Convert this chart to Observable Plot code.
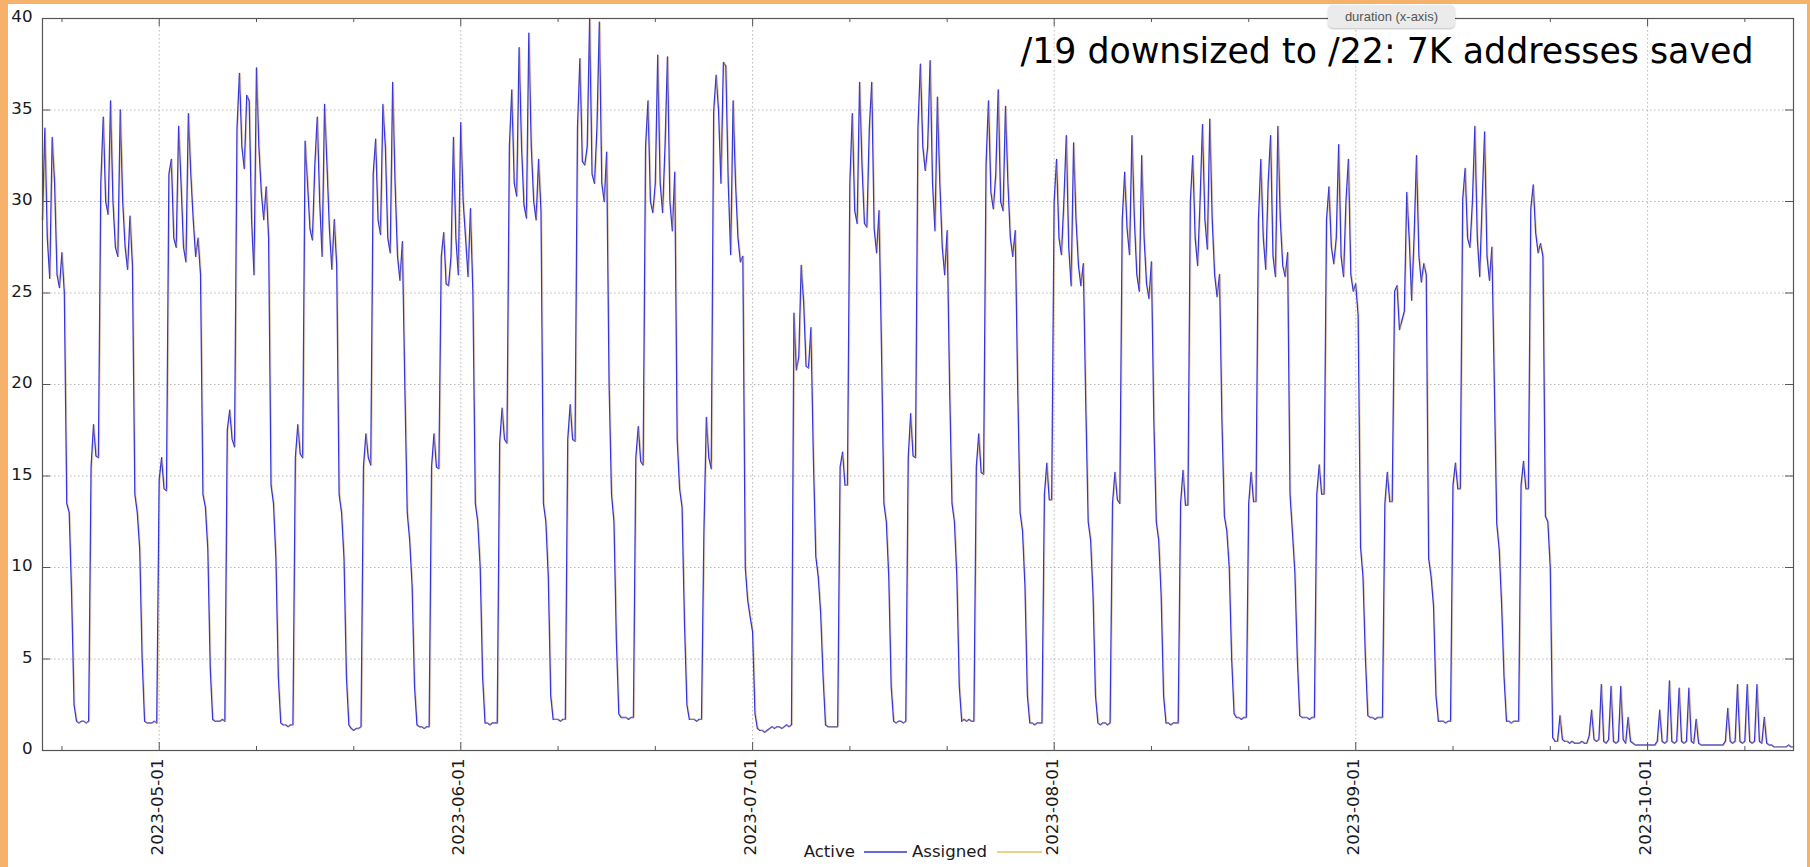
<!DOCTYPE html>
<html>
<head>
<meta charset="utf-8">
<script src="https://cdn.jsdelivr.net/npm/d3@7"></script>
<script src="https://cdn.jsdelivr.net/npm/@observablehq/plot@0.6"></script>
<style>
  html, body { margin: 0; padding: 0; overflow: hidden; background: #f6b26b; }
  #page { position: relative; width: 1810px; height: 867px; background: #f6b26b; }
  #white { position: absolute; left: 8px; top: 4px; width: 1799px; height: 863px; background: #ffffff; }
  #chart { position: absolute; left: 0; top: 0; }
  #tip { position: absolute; left: 1328px; top: 5px; width: 127px; height: 23px; background: #ebebeb;
         border-radius: 5px; box-shadow: 0 1px 2px rgba(0,0,0,0.25);
         font: 13px "Liberation Sans", Arial, sans-serif; color: #555; line-height: 23px; text-align: center; }
</style>
</head>
<body>
<div id="page">
  <div id="white"></div>
  <div id="chart"></div>
  <div id="tip">duration (x-axis)</div>
</div>
<script>
// ---------------- DATA (6-hour steps) ----------------
const titleText = "/19 downsized to /22: 7K addresses saved";
const seriesNames = ["Active", "Assigned"];
const yTicks = [0, 5, 10, 15, 20, 25, 30, 35, 40];
const monthTicks = ["2023-05-01", "2023-06-01", "2023-07-01", "2023-08-01", "2023-09-01", "2023-10-01"];
const minorTicks = ["2023-04-21", "2023-05-11", "2023-05-21", "2023-06-11", "2023-06-21", "2023-07-11",
                    "2023-07-21", "2023-08-11", "2023-08-21", "2023-09-11", "2023-09-21", "2023-10-11"];
const xDomain = ["2023-04-19T00:00:00Z", "2023-10-16T00:00:00Z"];
const stepHours = 6;

// each week: values every 6 h starting at the listed date (00:00 UTC)
const w0419 = [29, 34, 28, 25.8,  33.5, 31, 26, 25.3,  27.2, 25, 13.5, 13,  8.5, 2.5, 1.6, 1.5,  1.6, 1.6, 1.5, 1.6,  15.5, 17.8, 16.1, 16];
const w0425 = [31, 34.6, 30, 29.3,  35.5, 30, 27.5, 27,  35, 30, 27.5, 26.3,  29.2, 26.5, 14, 13,  11, 5, 1.6, 1.5,  1.5, 1.5, 1.6, 1.5,  14.8, 16, 14.3, 14.2];
const w0502 = [31.5, 32.3, 28, 27.5,  34.1, 31, 27.5, 26.7,  34.8, 31.5, 29, 27,  28, 26, 14, 13.3,  11, 4.5, 1.7, 1.6,  1.6, 1.6, 1.7, 1.6,  17.5, 18.6, 17, 16.6];
const w0509 = [34, 37, 33, 31.8,  35.8, 35.5, 29, 26,  37.3, 33, 30.5, 29,  30.8, 28, 14.5, 13.5,  10.5, 4, 1.5, 1.4,  1.4, 1.3, 1.4, 1.4,  16, 17.8, 16.2, 16];
const w0516 = [33.3, 31, 28.5, 27.9,  32, 34.6, 30, 27,  35.3, 32, 28.5, 26.3,  29, 26.5, 14, 13,  10.5, 4, 1.4, 1.2,  1.1, 1.2, 1.2, 1.3,  15.5, 17.3, 16, 15.6];
const w0523 = [31.5, 33.4, 29, 28.2,  35.3, 33, 28, 27.2,  36.5, 31, 27, 25.7,  27.8, 20, 13, 11.5,  9, 3.5, 1.4, 1.3,  1.3, 1.2, 1.3, 1.3,  15.5, 17.3, 15.5, 15.4];
const w0530 = [27, 28.3, 25.5, 25.4,  27, 33.5, 28, 26,  34.3, 30, 28, 25.9,  29.6, 25, 13.5, 12.5,  10, 4, 1.5, 1.5,  1.4, 1.5, 1.5, 1.5,  16.8, 18.7, 17, 16.8];
const w0606 = [33, 36.1, 31, 30.3,  38.4, 33, 29.8, 29.1,  39.2, 33, 30, 29,  32.3, 29.5, 13.5, 12.5,  9.5, 3, 1.7, 1.7,  1.7, 1.6, 1.7, 1.7,  17, 18.9, 17, 16.9];
const w0613 = [34, 37.8, 32.2, 32,  33, 40, 31.5, 31,  34, 39.8, 31, 30,  32.7, 20, 14, 12.5,  6, 2, 1.8, 1.8,  1.8, 1.7, 1.8, 1.8,  16, 17.7, 15.8, 15.6];
const w0620 = [33, 35.5, 30, 29.4,  31, 38, 31, 29.4,  33, 37.9, 30, 28.4,  31.6, 17, 14.3, 13.3,  7, 2.5, 1.7, 1.7,  1.7, 1.6, 1.7, 1.7,  12, 18.2, 16, 15.4];
const w0627 = [34.9, 36.9, 35, 31,  37.6, 37.4, 31, 27.1,  35.5, 31, 28, 26.7,  27, 10, 8.2, 7.3,  6.5, 2, 1.2, 1.1,  1.1, 1.0, 1.1, 1.2,  1.3, 1.2, 1.3, 1.3];
const w0704 = [1.2, 1.3, 1.4, 1.3,  1.4, 23.9, 20.8, 21.5,  26.5, 24.5, 21, 20.9,  23.1, 16, 10.6, 9.5,  7.5, 4, 1.4, 1.3,  1.3, 1.3, 1.3, 1.3,  15.5, 16.3, 14.5, 14.5];
const w0711 = [31, 34.8, 29.5, 28.8,  36.5, 32, 28.8, 28.6,  34, 36.5, 28.5, 27.2,  29.5, 22, 13.5, 12.5,  9.5, 3.5, 1.6, 1.5,  1.6, 1.6, 1.5, 1.6,  16, 18.4, 16.1, 16];
const w0718 = [34, 37.5, 33, 31.7,  33, 37.7, 31, 28.4,  35.7, 31, 27.5, 26,  28.4, 20, 13.5, 12.5,  9.5, 3.5, 1.6, 1.7,  1.6, 1.7, 1.6, 1.6,  15.5, 17.3, 15.2, 15.1];
const w0725 = [32, 35.5, 30.5, 29.6,  31.5, 36.1, 30, 29.5,  35.2, 31, 28, 27,  28.4, 20, 13, 12,  9, 3, 1.5, 1.5,  1.4, 1.5, 1.5, 1.5,  14, 15.7, 13.7, 13.7];
const w0801 = [30, 32.3, 28, 27.1,  30, 33.6, 27.5, 25.4,  33.2, 29, 26.5, 25.4,  26.6, 19, 12.5, 11.5,  8.5, 3, 1.5, 1.4,  1.5, 1.5, 1.4, 1.5,  13.5, 15.2, 13.7, 13.5];
const w0808 = [29, 31.6, 28.5, 27.1,  33.6, 29, 26, 25.1,  32.5, 28, 25.5, 24.7,  26.7, 18, 12.5, 11.5,  8.5, 3, 1.5, 1.5,  1.4, 1.5, 1.5, 1.5,  13.5, 15.3, 13.4, 13.4];
const w0815 = [30, 32.5, 28, 26.5,  30, 34.2, 29, 27.4,  34.5, 29, 26, 24.8,  26, 18, 12.8, 12,  10, 5, 2, 1.8,  1.8, 1.7, 1.8, 1.8,  13.5, 15.2, 13.6, 13.6];
const w0822 = [29, 32.3, 28, 26.3,  31, 33.6, 27, 25.9,  34.1, 29, 26.5, 25.9,  27.2, 14, 11.9, 9.7,  5, 1.9, 1.8, 1.8,  1.8, 1.7, 1.8, 1.8,  14, 15.6, 14, 14];
const w0829 = [29, 30.8, 27.5, 26.6,  28, 33.1, 27, 25.9,  30, 32.3, 26, 25.1,  25.5, 23.8, 11.1, 9.5,  5, 1.9, 1.8, 1.8,  1.7, 1.8, 1.8, 1.8,  13.5, 15.2, 13.6, 13.6];
const w0905 = [25.1, 25.4, 23, 23.5,  24, 30.5, 28, 24.6,  28, 32.5, 27, 25.6,  26.6, 26, 10.5, 9.5,  7.9, 3, 1.6, 1.6,  1.6, 1.5, 1.6, 1.6,  14.5, 15.7, 14.3, 14.3];
const w0912 = [30.1, 31.8, 28, 27.5,  30, 34.1, 28, 25.9,  30, 33.8, 27, 25.7,  27.5, 20, 12.4, 11,  8, 4, 1.6, 1.6,  1.5, 1.6, 1.6, 1.6,  14.5, 15.8, 14.3, 14.3];
const w0919 = [29.6, 30.9, 28.3, 27.2,  27.7, 27, 12.8, 12.5,  10, 0.7, 0.5, 0.5,  1.9, 0.6, 0.5, 0.5,  0.4, 0.5, 0.4, 0.4,  0.4, 0.5, 0.4, 0.4,  0.8, 2.2, 0.6, 0.5];
const w0926 = [0.6, 3.6, 0.5, 0.4,  0.6, 3.5, 0.5, 0.4,  0.5, 3.5, 0.6, 0.4,  1.8, 0.5, 0.4, 0.3,  0.3, 0.3, 0.3, 0.3,  0.3, 0.3, 0.3, 0.3,  0.5, 2.2, 0.5, 0.4];
const w1003 = [0.5, 3.8, 0.5, 0.4,  0.5, 3.4, 0.5, 0.4,  0.5, 3.4, 0.5, 0.4,  1.7, 0.4, 0.3, 0.3,  0.3, 0.3, 0.3, 0.3,  0.3, 0.3, 0.3, 0.3,  0.5, 2.3, 0.5, 0.4];
const w1010 = [0.5, 3.6, 0.5, 0.4,  0.5, 3.6, 0.5, 0.4,  0.5, 3.6, 0.5, 0.4,  1.8, 0.4, 0.3, 0.3,  0.2, 0.2, 0.2, 0.2,  0.2, 0.2, 0.3, 0.2,  0.2];

const weekStarts = ["2023-04-19", "2023-04-25", "2023-05-02", "2023-05-09", "2023-05-16", "2023-05-23",
  "2023-05-30", "2023-06-06", "2023-06-13", "2023-06-20", "2023-06-27", "2023-07-04", "2023-07-11",
  "2023-07-18", "2023-07-25", "2023-08-01", "2023-08-08", "2023-08-15", "2023-08-22", "2023-08-29",
  "2023-09-05", "2023-09-12", "2023-09-19", "2023-09-26", "2023-10-03", "2023-10-10"];
const activeWeeks = [w0419, w0425, w0502, w0509, w0516, w0523, w0530, w0606, w0613, w0620, w0627, w0704,
  w0711, w0718, w0725, w0801, w0808, w0815, w0822, w0829, w0905, w0912, w0919, w0926, w1003, w1010];
// The Assigned curve lies on top of Active to within a pixel in the reference: same readings.
const assignedWeeks = activeWeeks;

// ---------------- BUILD ----------------
const rows = [];
weekStarts.forEach((s, w) => {
  const t0 = Date.parse(s + "T00:00:00Z");
  activeWeeks[w].forEach((v, j) => {
    rows.push({date: new Date(t0 + j * stepHours * 3600e3), active: v, assigned: assignedWeeks[w][j]});
  });
});

const toDate = (s) => new Date(s.length > 10 ? s : s + "T00:00:00Z");
const majors = monthTicks.map(toDate);
const minors = minorTicks.map(toDate);
const fmt = d3.utcFormat("%Y-%m-%d");

const activeColor = "#3434d8";
const assignedColor = "#e6bf62";
const axisColor = "#555";
const gridStyle = {stroke: "#b8b8b8", strokeOpacity: 1, strokeDasharray: "1.5,2.5"};
const font = "'DejaVu Sans', Verdana, sans-serif";

const W = 1810, H = 867, mL = 42, mR = 17, mT = 18, mB = 117;
const frameW = W - mL - mR, frameH = H - mT - mB;

const chart = Plot.plot({
  width: W, height: H,
  marginLeft: mL, marginRight: mR, marginTop: mT, marginBottom: mB,
  style: {background: "transparent", fontFamily: font, fontSize: "16.7px", color: "#1a1a1a", overflow: "visible"},
  x: {type: "utc", domain: xDomain.map(toDate)},
  y: {domain: [0, 40]},
  marks: [
    Plot.gridY({ticks: yTicks.filter(t => t > 0 && t < 40), ...gridStyle}),
    Plot.gridX({ticks: majors, ...gridStyle}),
    Plot.lineY(rows, {x: "date", y: "active", stroke: activeColor, strokeWidth: 1.4}),
    Plot.lineY(rows, {x: "date", y: "assigned", stroke: assignedColor, strokeWidth: 1.2, strokeOpacity: 0.45, dx: 1}),
    Plot.frame({stroke: axisColor, strokeWidth: 1.2}),
    // inward tick marks (left/right y, bottom/top x)
    Plot.tickY(yTicks, {y: d => d, insetRight: frameW - 8, stroke: axisColor}),
    Plot.tickY(yTicks, {y: d => d, insetLeft: frameW - 8, stroke: axisColor}),
    Plot.tickX(majors, {x: d => d, insetTop: frameH - 8, stroke: axisColor}),
    Plot.tickX(majors, {x: d => d, insetBottom: frameH - 8, stroke: axisColor}),
    Plot.tickX(minors, {x: d => d, insetTop: frameH - 4, stroke: axisColor}),
    Plot.tickX(minors, {x: d => d, insetBottom: frameH - 4, stroke: axisColor}),
    Plot.axisY({ticks: yTicks, tickSize: 0, tickPadding: 10, label: null, fontSize: 16.7, dy: -1.5}),
    Plot.axisX({ticks: majors, tickFormat: fmt, tickRotate: -90, tickSize: 0, tickPadding: 8,
                label: null, fontSize: 16.7, dx: -2}),
    Plot.text([titleText], {frameAnchor: "top-left", text: d => d, dx: 978, dy: 32.8,
                fontSize: 35, textAnchor: "start", lineAnchor: "middle", fill: "#000"})
  ]
});

const svg = d3.select(chart);
svg.selectAll('g[aria-label="text"] text')
   .attr("textLength", 733).attr("lengthAdjust", "spacingAndGlyphs");

// legend (below the frame, between the rotated labels)
const lg = svg.append("g").attr("font-family", font).attr("font-size", 16.6).attr("fill", "#1a1a1a");
lg.append("text").attr("x", 855).attr("y", 857).attr("text-anchor", "end").text(seriesNames[0]);
lg.append("line").attr("x1", 864).attr("x2", 907).attr("y1", 852).attr("y2", 852)
  .attr("stroke", activeColor).attr("stroke-width", 1.5);
lg.append("text").attr("x", 987).attr("y", 857).attr("text-anchor", "end").text(seriesNames[1]);
lg.append("line").attr("x1", 997).attr("x2", 1042).attr("y1", 852).attr("y2", 852)
  .attr("stroke", assignedColor).attr("stroke-width", 1.5);

document.getElementById("chart").appendChild(chart);
</script>
</body>
</html>
